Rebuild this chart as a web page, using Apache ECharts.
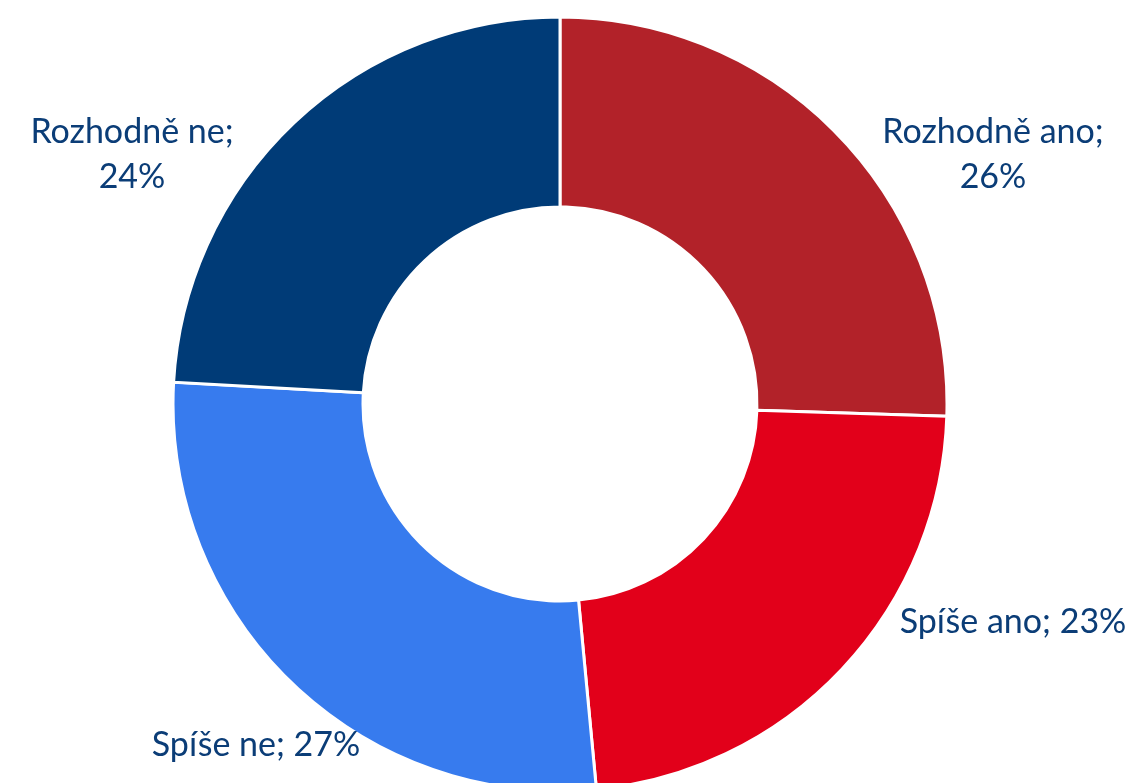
<!DOCTYPE html>
<html>
<head>
<meta charset="utf-8">
<script src="https://cdn.jsdelivr.net/npm/echarts@6/dist/echarts.min.js"></script>
<style>
  html, body { margin: 0; padding: 0; background: #fff; }
  #chart { width: 1134px; height: 783px; }
</style>
</head>
<body>
<div id="chart"></div>
<script>
  // kategorie a hodnoty (v %), popisky zaokrouhleny
  const categories = ['Rozhodně ano', 'Spíše ano', 'Spíše ne', 'Rozhodně ne'];
  const values = [25.5, 23.0, 27.4, 24.1];
  const colors = ['#B22229', '#E2001A', '#377BEE', '#003B77'];

  // umístění popisků (střed textu)
  const labelPos = [[993, 155], [1013, 622], [256, 745], [132, 155]];
  const twoLine = [true, false, false, true];

  const chart = echarts.init(document.getElementById('chart'));
  chart.setOption({
    animation: false,
    series: [{
      type: 'pie',
      center: [560, 404],
      radius: [197, 387],
      startAngle: 90,
      clockwise: true,
      avoidLabelOverlap: false,
      itemStyle: {
        borderColor: '#fff',
        borderWidth: 3
      },
      label: {
        show: true,
        position: 'outside',
        color: '#0B3D77',
        fontFamily: 'Lato',
        fontSize: 34,
        lineHeight: 45,
        align: 'center',
        formatter: function (p) {
          const v = Math.round(p.value) + '%';
          return twoLine[p.dataIndex] ? p.name + ';\n' + v : p.name + '; ' + v;
        }
      },
      labelLine: { show: false },
      labelLayout: function (params) {
        const pos = labelPos[params.dataIndex];
        return {
          x: pos[0],
          y: pos[1],
          align: 'center',
          verticalAlign: 'middle'
        };
      },
      data: categories.map((name, i) => ({
        name: name,
        value: values[i],
        itemStyle: { color: colors[i] }
      }))
    }]
  });
</script>
</body>
</html>
